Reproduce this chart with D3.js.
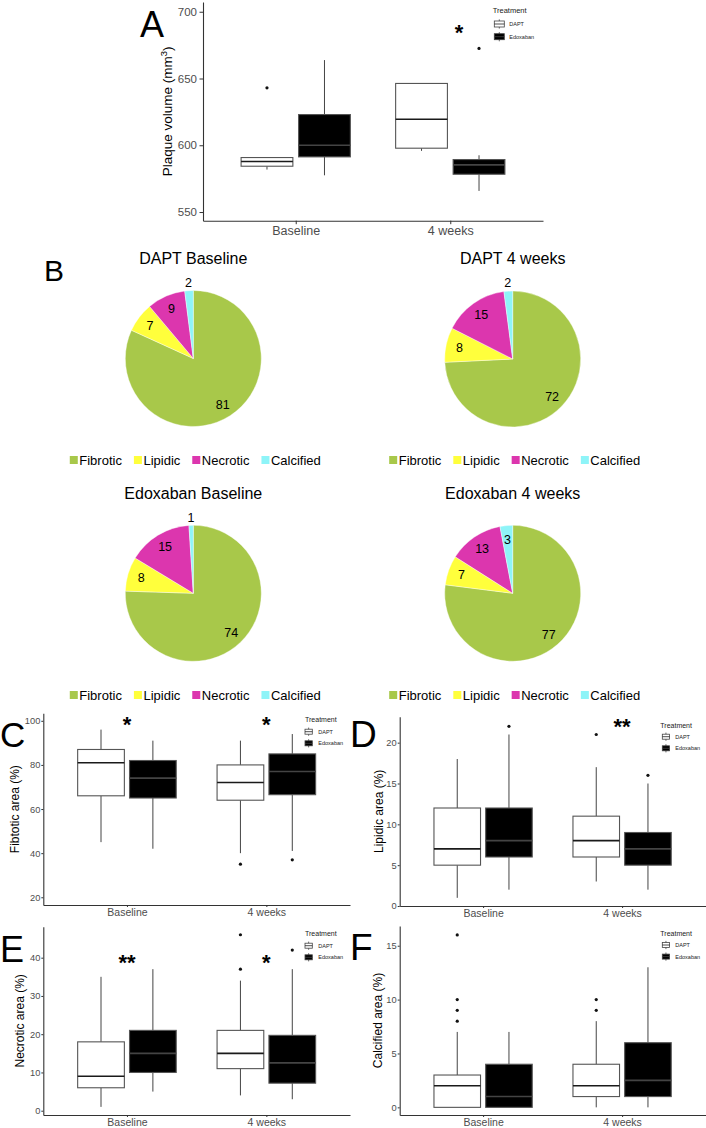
<!DOCTYPE html>
<html>
<head>
<meta charset="utf-8">
<script src="https://cdn.jsdelivr.net/npm/d3@7"></script>
<style>
  html, body { margin: 0; padding: 0; background: #fff; }
  svg { display: block; }
</style>
</head>
<body>
<svg id="fig" width="706" height="1128"></svg>
<script>
// ---- data ----
const timepoints = ['Baseline', '4 weeks'];
const treatments = ['DAPT', 'Edoxaban'];

// boxplot summaries per timepoint: [lower whisker, Q1, median, Q3, upper whisker]
const plaqueDapt = [[581.8, 584.3, 587.8, 590.8, 590.8], [595.8, 597.8, 619.5, 646.3, 646.3]];
const plaqueEdox = [[577.5, 591.3, 600, 623, 663.8], [565.8, 578.3, 585.3, 589.3, 592.5]];
const plaqueDaptOut = [[643], []];
const plaqueEdoxOut = [[], [672.5]];
const plaqueTicks = [550, 600, 650, 700];
const plaqueSig = [{ time: '4 weeks', label: '*', value: 687.8 }];

const fibDapt = [[45, 66, 81, 87, 96], [40, 64, 72, 80, 91]];
const fibEdox = [[42, 65, 74, 82, 91], [41, 66.5, 77, 85, 94]];
const fibDaptOut = [[], [35]];
const fibEdoxOut = [[], [37]];
const fibTicks = [20, 40, 60, 80, 100];
const fibSig = [{ time: 'Baseline', label: '*', value: 100.6 }, { time: '4 weeks', label: '*', value: 100.6 }];

const lipDapt = [[1, 5, 7, 12, 18], [3, 6, 8, 11, 17]];
const lipEdox = [[2, 6, 8, 12, 21], [2, 5, 7, 9, 15]];
const lipDaptOut = [[], [21]];
const lipEdoxOut = [[22], [16]];
const lipTicks = [0, 5, 10, 15, 20];
const lipSig = [{ time: '4 weeks', label: '**', value: 22.6 }];

const necDapt = [[1, 6, 9, 18, 35], [4, 11, 15, 21, 34]];
const necEdox = [[5, 10, 15, 21, 37], [3, 7.2, 12.5, 19.7, 37]];
const necDaptOut = [[], [37, 46]];
const necEdoxOut = [[], [42]];
const necTicks = [0, 10, 20, 30, 40];
const necSig = [{ time: 'Baseline', label: '**', value: 40 }, { time: '4 weeks', label: '*', value: 40 }];

const calDapt = [[0, 0, 2, 3, 7], [0, 1, 2, 4, 8]];
const calEdox = [[0, 0, 1, 4, 7], [0, 1, 2.5, 6, 13]];
const calDaptOut = [[8, 9, 10, 16], [9, 10]];
const calEdoxOut = [[], []];
const calTicks = [0, 5, 10, 15];

// plaque composition (%)
const compCategories = ['Fibrotic', 'Lipidic', 'Necrotic', 'Calcified'];
const compColors = ['#a8c84a', '#ffff3c', '#dc36ae', '#8ef4f8'];
const pieTitles = ['DAPT Baseline', 'DAPT 4 weeks', 'Edoxaban Baseline', 'Edoxaban 4 weeks'];
const daptBaselineComp = [81, 7, 9, 2];
const dapt4wComp = [72, 8, 15, 2];
const edoxBaselineComp = [74, 8, 15, 1];
const edox4wComp = [77, 7, 13, 3];

// ---- drawing ----
const FONT = '"Liberation Sans", Arial, Helvetica, sans-serif';
const svg = d3.select('#fig').style('font-family', FONT);

function letter(txt, x, y, size) {
  svg.append('text').attr('x', x).attr('y', y).text(txt)
    .attr('font-size', size).attr('fill', '#000');
}

function boxPanel(o) {
  const g = svg.append('g');
  const x = d3.scalePoint().domain(timepoints).range([o.left, o.right]).padding(0.6);
  const y = d3.scaleLinear().domain(o.domain).range([o.bottom, o.top]);
  const step = x.step();
  const bw = step * 0.335, off = step * 0.186;

  // y axis
  const ya = g.append('g').attr('transform', 'translate(' + o.left + ',0)')
    .call(d3.axisLeft(y).tickValues(o.ticks).tickSize(o.tick).tickSizeOuter(0).tickPadding(o.pad))
    .attr('font-family', FONT).attr('font-size', o.tickFont);
  ya.select('.domain').attr('stroke', '#333').attr('stroke-width', 1.1);
  ya.selectAll('.tick line').attr('stroke', '#333');
  ya.selectAll('.tick text').attr('fill', '#4d4d4d');

  // x axis
  const xa = g.append('g').attr('transform', 'translate(0,' + o.bottom + ')')
    .call(d3.axisBottom(x).tickSize(o.tick).tickSizeOuter(0).tickPadding(o.xpad))
    .attr('font-family', FONT).attr('font-size', o.xFont);
  xa.select('.domain').attr('stroke', '#333').attr('stroke-width', 1.1);
  xa.selectAll('.tick line').attr('stroke', '#333');
  xa.selectAll('.tick text').attr('fill', '#4d4d4d');

  // boxes
  const rows = [];
  timepoints.forEach((t, ti) => {
    treatments.forEach((tr, k) => {
      const s = (k === 0 ? o.dapt : o.edox)[ti];
      const out = (k === 0 ? o.daptOut : o.edoxOut)[ti];
      rows.push({ t: t, k: k, s: s, out: out, cx: x(t) + (k === 0 ? -off : off) });
    });
  });
  const b = g.selectAll('g.box').data(rows).enter().append('g').attr('class', 'box');
  b.append('line')
    .attr('x1', d => d.cx).attr('x2', d => d.cx)
    .attr('y1', d => y(d.s[0])).attr('y2', d => y(d.s[1]))
    .attr('stroke', '#444').attr('stroke-width', 1);
  b.append('line')
    .attr('x1', d => d.cx).attr('x2', d => d.cx)
    .attr('y1', d => y(d.s[3])).attr('y2', d => y(d.s[4]))
    .attr('stroke', '#444').attr('stroke-width', 1);
  b.append('rect')
    .attr('x', d => d.cx - bw / 2).attr('width', bw)
    .attr('y', d => y(d.s[3])).attr('height', d => y(d.s[1]) - y(d.s[3]))
    .attr('fill', d => d.k === 0 ? '#fff' : '#000')
    .attr('stroke', '#555').attr('stroke-width', 1.1);
  b.append('line')
    .attr('x1', d => d.cx - bw / 2).attr('x2', d => d.cx + bw / 2)
    .attr('y1', d => y(d.s[2])).attr('y2', d => y(d.s[2]))
    .attr('stroke', d => d.k === 0 ? '#1a1a1a' : '#444').attr('stroke-width', 1.6);
  b.selectAll('circle').data(d => d.out.map(v => ({ cx: d.cx, v: v }))).enter()
    .append('circle').attr('cx', d => d.cx).attr('cy', d => y(d.v)).attr('r', 1.6).attr('fill', '#111');

  // significance marks
  const sfs = 22;
  g.selectAll('text.sig').data(o.sig || []).enter().append('text').attr('class', 'sig')
    .attr('x', d => x(d.time) + (o.sigShift || 0) * step)
    .attr('y', d => y(d.value) + 0.55 * sfs)
    .attr('text-anchor', 'middle').attr('font-size', sfs).attr('font-weight', 'bold')
    .text(d => d.label);

  // y title
  const yt = g.append('text')
    .attr('transform', 'translate(' + o.titleX + ',' + ((o.top + o.bottom) / 2) + ') rotate(-90)')
    .attr('text-anchor', 'middle').attr('font-size', o.titleFont).attr('fill', '#000');
  yt.append('tspan').text(o.title);
  if (o.titleSup) {
    yt.append('tspan').text(o.titleSup).attr('font-size', o.titleFont * 0.7).attr('dy', -o.titleFont * 0.4);
    yt.append('tspan').text(')').attr('dy', o.titleFont * 0.4);
  }

  // legend
  const L = o.legend;
  const lg = g.append('g');
  lg.append('text').attr('x', L.x).attr('y', L.y + L.titleSize * 0.36).text('Treatment')
    .attr('font-size', L.titleSize).attr('fill', '#222');
  treatments.forEach((tr, k) => {
    const ry = L.rows[k];
    const kx = L.keyX;
    lg.append('line').attr('x1', kx + L.kw / 2).attr('x2', kx + L.kw / 2)
      .attr('y1', ry - L.kh / 2 - 1.6).attr('y2', ry + L.kh / 2 + 1.6)
      .attr('stroke', '#444').attr('stroke-width', 0.8);
    lg.append('rect').attr('x', kx).attr('y', ry - L.kh / 2).attr('width', L.kw).attr('height', L.kh)
      .attr('fill', k === 0 ? '#fff' : '#000').attr('stroke', '#444').attr('stroke-width', 0.8);
    lg.append('line').attr('x1', kx).attr('x2', kx + L.kw).attr('y1', ry).attr('y2', ry)
      .attr('stroke', k === 0 ? '#222' : '#444').attr('stroke-width', 0.8);
    lg.append('text').attr('x', L.labelX).attr('y', ry + L.labelSize * 0.36).text(tr)
      .attr('font-size', L.labelSize).attr('fill', '#222');
  });
}

function piePanel(cx, cy, r, title, titleY, values, legendY) {
  const g = svg.append('g');
  g.append('text').attr('x', cx).attr('y', titleY).attr('text-anchor', 'middle')
    .attr('font-size', 16).attr('fill', '#000').text(title);

  const data = values.map((v, i) => ({ v: v, cat: compCategories[i], color: compColors[i] }));
  const arcs = d3.pie().sort(null).value(d => d.v)(data);
  const arc = d3.arc().innerRadius(0).outerRadius(r);
  const pg = g.append('g').attr('transform', 'translate(' + cx + ',' + cy + ')');
  pg.selectAll('path').data(arcs).enter().append('path')
    .attr('d', arc).attr('fill', d => d.data.color)
    .attr('stroke', '#fff').attr('stroke-width', 0.4);
  pg.selectAll('text').data(arcs).enter().append('text')
    .attr('transform', d => {
      const a = (d.startAngle + d.endAngle) / 2;
      const rr = d.data.v < 3 ? r * 1.12 : r * 0.8;
      return 'translate(' + (Math.sin(a) * rr) + ',' + (-Math.cos(a) * rr) + ')';
    })
    .attr('text-anchor', 'middle').attr('dy', '0.36em')
    .attr('font-size', 12.5).attr('fill', '#000')
    .text(d => d.data.v);

  // legend row
  const lg = g.append('g');
  let cursor = 0;
  data.forEach(d => {
    lg.append('rect').attr('x', cursor).attr('y', -4).attr('width', 8).attr('height', 8).attr('fill', d.color);
    const t = lg.append('text').attr('x', cursor + 9.5).attr('y', 4.7)
      .attr('font-size', 13).attr('fill', '#000').text(d.cat);
    cursor += 9.5 + t.node().getComputedTextLength() + 12;
  });
  const total = cursor - 12;
  lg.attr('transform', 'translate(' + (cx + 2 - total / 2) + ',' + legendY + ')');
}

// ---- panel A ----
boxPanel({
  left: 203, right: 543, top: 2, bottom: 220.7, domain: [543.5, 707.3], ticks: plaqueTicks,
  dapt: plaqueDapt, edox: plaqueEdox, daptOut: plaqueDaptOut, edoxOut: plaqueEdoxOut,
  sig: plaqueSig, sigShift: 0.057,
  tick: 3.5, pad: 2.5, xpad: 1.5, tickFont: 11.5, xFont: 12.5,
  title: 'Plaque volume (mm', titleSup: '3', titleX: 172, titleFont: 13.5,
  legend: { x: 492.7, y: 10, keyX: 494.3, kw: 10, kh: 6, rows: [24, 36.7], labelX: 509.3, titleSize: 7.5, labelSize: 5.5 }
});
letter('A', 140, 37.3, 36);

// ---- panel B ----
letter('B', 44, 281, 30);
piePanel(193.3, 358.5, 68, pieTitles[0], 264.3, daptBaselineComp, 460);
piePanel(512.7, 359, 68, pieTitles[1], 264.3, dapt4wComp, 460);
piePanel(193.3, 593.3, 68, pieTitles[2], 498.5, edoxBaselineComp, 695);
piePanel(512.7, 593.3, 68, pieTitles[3], 498.5, edox4wComp, 695);

// ---- panels C-F ----
const leftLegend = (y0) => ({ x: 305, y: y0, keyX: 305, kw: 7.3, kh: 5, rows: [y0 + 12.4, y0 + 24], labelX: 318.3, titleSize: 7, labelSize: 5.5 });
const rightLegend = (y0) => ({ x: 660.3, y: y0, keyX: 662.3, kw: 7.3, kh: 5, rows: [y0 + 11.7, y0 + 23.3], labelX: 675.3, titleSize: 7, labelSize: 5.5 });

boxPanel({
  left: 43.3, right: 350, top: 713.3, bottom: 905, domain: [16.5, 103.4], ticks: fibTicks,
  dapt: fibDapt, edox: fibEdox, daptOut: fibDaptOut, edoxOut: fibEdoxOut, sig: fibSig,
  tick: 2, pad: 1, xpad: 1.5, tickFont: 9.3, xFont: 10.5,
  title: 'Fibtotic area (%)', titleX: 19, titleFont: 12, legend: leftLegend(719.3)
});
letter('C', 0, 747, 35);

boxPanel({
  left: 399.7, right: 705.5, top: 716.7, bottom: 906, domain: [0, 23.18], ticks: lipTicks,
  dapt: lipDapt, edox: lipEdox, daptOut: lipDaptOut, edoxOut: lipEdoxOut, sig: lipSig,
  tick: 2, pad: 1, xpad: 1.5, tickFont: 9.3, xFont: 10.5,
  title: 'Lipidic area (%)', titleX: 383, titleFont: 12, legend: rightLegend(725)
});
letter('D', 350, 746.7, 37);

boxPanel({
  left: 43.3, right: 350, top: 926.7, bottom: 1115, domain: [-1.12, 48.1], ticks: necTicks,
  dapt: necDapt, edox: necEdox, daptOut: necDaptOut, edoxOut: necEdoxOut, sig: necSig,
  tick: 2, pad: 1, xpad: 1.5, tickFont: 9.3, xFont: 10.5,
  title: 'Necrotic area (%)', titleX: 24, titleFont: 12, legend: leftLegend(933.3)
});
letter('E', 0, 961.7, 36);

boxPanel({
  left: 399.7, right: 705.5, top: 926, bottom: 1115, domain: [-0.71, 16.83], ticks: calTicks,
  dapt: calDapt, edox: calEdox, daptOut: calDaptOut, edoxOut: calEdoxOut, sig: [],
  tick: 2, pad: 1, xpad: 1.5, tickFont: 9.3, xFont: 10.5,
  title: 'Calcified area (%)', titleX: 382, titleFont: 12, legend: rightLegend(933.3)
});
letter('F', 350, 960, 37);
</script>
</body>
</html>
